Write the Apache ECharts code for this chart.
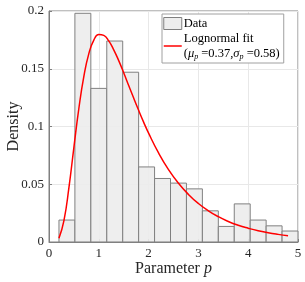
<!DOCTYPE html>
<html><head><meta charset="utf-8">
<script src="https://cdn.jsdelivr.net/npm/echarts@6/dist/echarts.min.js"></script>
<style>html,body{margin:0;padding:0;background:#fff}#c{width:305px;height:282px}</style>
</head><body><div id="c"></div>
<script>
// Histogram bin edges (Parameter p)
var binEdges = [0.2, 0.52, 0.84, 1.16, 1.48, 1.80, 2.12, 2.44, 2.76, 3.08, 3.40, 3.72, 4.04, 4.36, 4.68, 5.0];
// Bar heights (Density)
var binHeights = [0.019, 0.198, 0.133, 0.174, 0.147, 0.065, 0.055, 0.051, 0.046, 0.027, 0.0135, 0.033, 0.019, 0.014, 0.0095];
// Lognormal fit curve points
var fitX = [0.2, 0.3, 0.4, 0.5, 0.6, 0.7, 0.8, 0.9, 1.0, 1.1, 1.2, 1.3, 1.4, 1.5, 1.6, 1.7, 1.8, 1.9, 2.0, 2.2, 2.4, 2.6, 2.8, 3.0, 3.2, 3.4, 3.6, 3.8, 4.0, 4.2, 4.4, 4.6, 4.8];
var fitY = [0.0033, 0.0185, 0.0471, 0.0820, 0.1158, 0.1434, 0.1631, 0.1748, 0.1796, 0.1789, 0.1741, 0.1664, 0.1570, 0.1465, 0.1355, 0.1246, 0.1140, 0.1038, 0.0942, 0.0771, 0.0627, 0.0509, 0.0412, 0.0333, 0.0270, 0.0219, 0.0178, 0.0145, 0.0119, 0.0097, 0.0080, 0.0066, 0.0054];
var xTicks = [0, 1, 2, 3, 4, 5];
var yTicks = [0, 0.05, 0.1, 0.15, 0.2];

var serif = 'Liberation Serif';
var histData = binHeights.map(function (h, i) { return [binEdges[i], binEdges[i + 1], h]; });
var fitData = fitX.map(function (x, i) { return [x, fitY[i]]; });

var chart = echarts.init(document.getElementById('c'), null, { renderer: 'canvas' });
chart.setOption({
  animation: false,
  backgroundColor: '#fff',
  grid: { left: 49, right: 7, top: 11, bottom: 40, containLabel: false, outerBoundsMode: 'none', show: true, borderColor: '#808080', borderWidth: 1, backgroundColor: 'transparent' },
  xAxis: {
    type: 'value', min: xTicks[0], max: xTicks[xTicks.length - 1], interval: 1,
    name: '{n|Parameter }{i|p}', nameLocation: 'middle', nameGap: 19, nameMoveOverlap: false,
    nameTextStyle: { rich: { n: { fontFamily: serif, fontSize: 16, color: '#262626' }, i: { fontFamily: serif, fontStyle: 'italic', fontSize: 16, color: '#262626' } } },
    axisLine: { show: true, lineStyle: { color: '#808080' } },
    axisTick: { show: true, inside: true, length: 3, lineStyle: { color: '#808080' } },
    axisLabel: { fontFamily: serif, fontSize: 13, color: '#262626', margin: 5 },
    splitLine: { show: true, lineStyle: { color: '#e8e8e8', width: 1 } }
  },
  yAxis: {
    type: 'value', min: yTicks[0], max: yTicks[yTicks.length - 1], interval: 0.05,
    name: 'Density', nameLocation: 'middle', nameGap: 27, nameMoveOverlap: false,
    nameTextStyle: { fontFamily: serif, fontSize: 16, color: '#262626' },
    axisLine: { show: true, lineStyle: { color: '#808080' } },
    axisTick: { show: true, inside: true, length: 3, lineStyle: { color: '#808080' } },
    axisLabel: { fontFamily: serif, fontSize: 13, color: '#262626', margin: 5 },
    splitLine: { show: true, lineStyle: { color: '#e8e8e8', width: 1 } }
  },
  legend: {
    orient: 'vertical', left: 162, top: 14, itemWidth: 18, itemHeight: 12, itemGap: 0,
    padding: [2, 4, 2, 1], borderColor: '#a0a0a0', borderWidth: 1, backgroundColor: '#fff',
    data: [
      { name: 'Data', icon: 'rect', itemStyle: { color: '#eeeeee', borderColor: '#808080', borderWidth: 1 } },
      { name: 'Lognormal fit', itemStyle: { opacity: 0 }, lineStyle: { color: '#ff0000', width: 1.5, opacity: 1 } }
    ],
    textStyle: {
      fontFamily: serif, fontSize: 12.5, color: '#000', lineHeight: 14, padding: [0, 0, 0, -3],
      rich: {
        t: { fontFamily: serif, fontSize: 12.5, color: '#000', lineHeight: 15 },
        i: { fontFamily: serif, fontStyle: 'italic', fontSize: 12.5, color: '#000', lineHeight: 15 },
        s: { fontFamily: serif, fontStyle: 'italic', fontSize: 8, color: '#000', lineHeight: 15, padding: [6, 0, 0, 0] }
      }
    },
    formatter: function (name) {
      if (name === 'Data') return '{t|Data}';
      return '{t|Lognormal fit}\n{t|(}{i|μ}{s|p}{t| =0.37,}{i|σ}{s|p}{t| =0.58)}';
    }
  },
  series: [
    {
      name: 'Data', type: 'custom', data: histData, z: 2,
      encode: { x: [0, 1], y: 2 },
      renderItem: function (params, api) {
        var p0 = api.coord([api.value(0), api.value(2)]);
        var p1 = api.coord([api.value(1), 0]);
        return {
          type: 'rect',
          shape: { x: p0[0], y: p0[1], width: p1[0] - p0[0], height: p1[1] - p0[1] },
          style: { fill: 'rgba(236,236,236,0.9)', stroke: '#808080', lineWidth: 1 }
        };
      }
    },
    {
      name: 'Lognormal fit', type: 'line', data: fitData, smooth: true, symbol: 'none', z: 3,
      itemStyle: { color: '#ff0000' },
      lineStyle: { color: '#ff0000', width: 1.5 }
    }
  ]
});
</script></body></html>
